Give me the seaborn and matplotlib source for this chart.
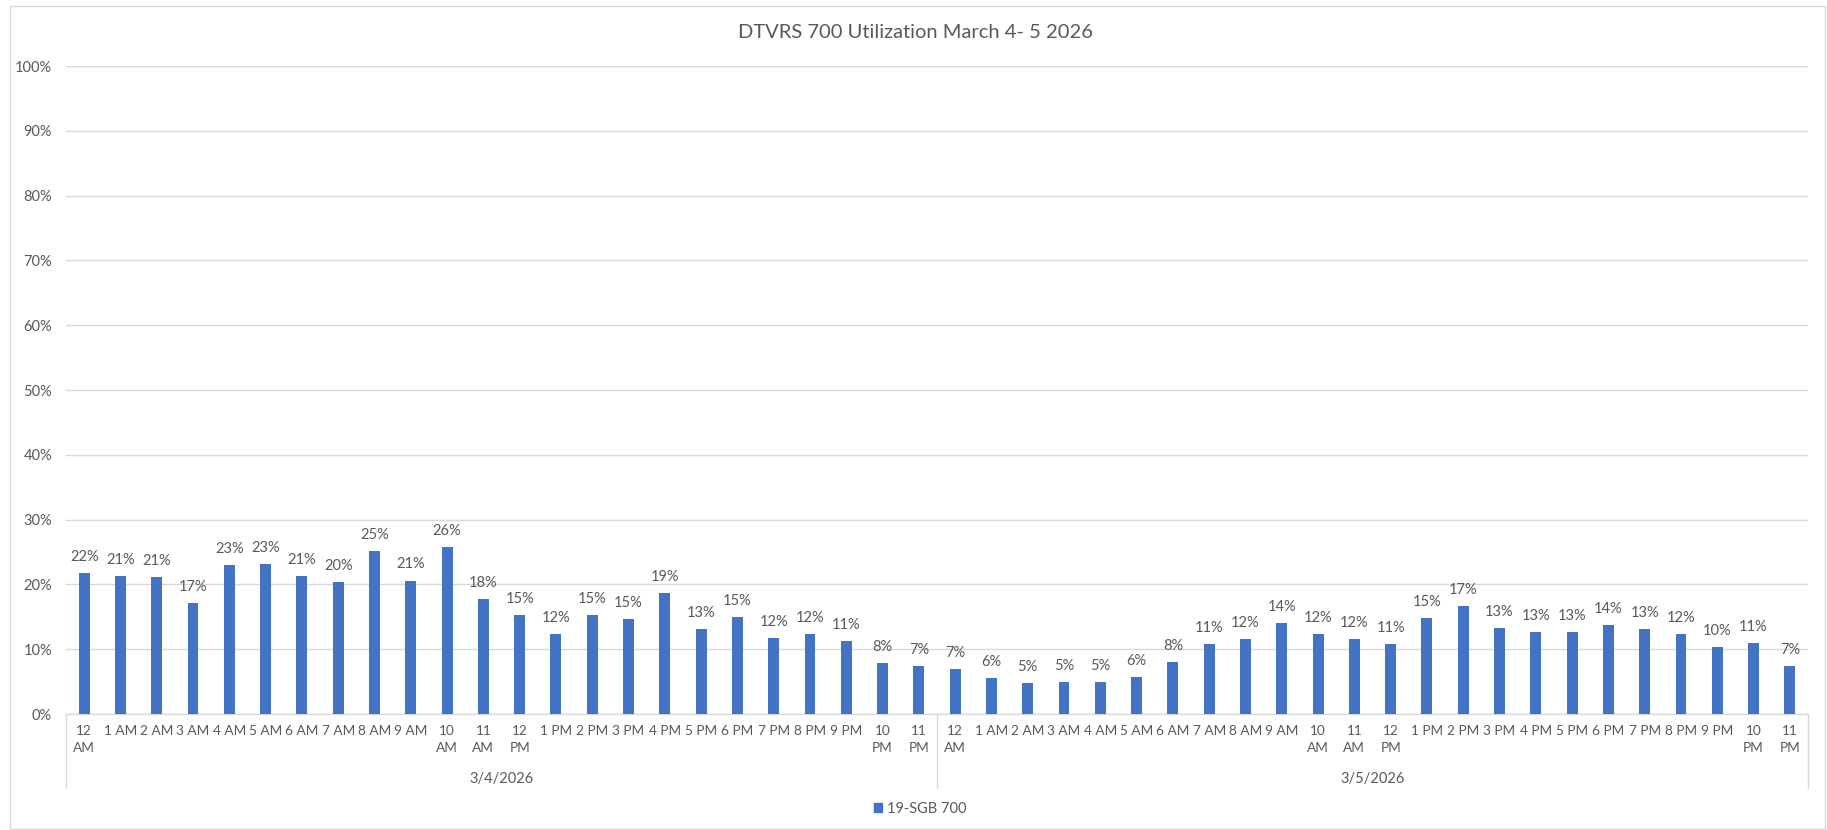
import matplotlib
matplotlib.use("Agg")
import matplotlib.pyplot as plt
import matplotlib.patches as mpatches
import matplotlib.transforms as mtransforms
import seaborn as sns
import pandas as pd
import numpy as np

# ---------------- data ----------------
title = "DTVRS 700 Utilization March 4- 5 2026"
series_name = "19-SGB 700"
dates = ["3/4/2026", "3/5/2026"]
hours = ["12 AM", "1 AM", "2 AM", "3 AM", "4 AM", "5 AM", "6 AM", "7 AM", "8 AM",
         "9 AM", "10 AM", "11 AM", "12 PM", "1 PM", "2 PM", "3 PM", "4 PM", "5 PM",
         "6 PM", "7 PM", "8 PM", "9 PM", "10 PM", "11 PM"]
day1_util = [21.7, 21.3, 21.1, 17.2, 23.0, 23.2, 21.3, 20.4, 25.1, 20.6, 25.8, 17.8,
             15.3, 12.3, 15.3, 14.6, 18.7, 13.1, 14.9, 11.8, 12.3, 11.2, 7.8, 7.4]
day2_util = [6.9, 5.6, 4.8, 5.0, 5.0, 5.7, 8.0, 10.8, 11.6, 14.0, 12.3, 11.6,
             10.8, 14.8, 16.6, 13.2, 12.7, 12.6, 13.8, 13.1, 12.4, 10.4, 11.0, 7.4]
y_ticks = list(range(0, 101, 10))

# ---------------- style ----------------
BAR = "#4472C4"
TXT = "#595959"
GRID = "#D9D9D9"
FS = 10.5
FSX = 9.8
sns.set_theme(style="white")
plt.rcParams["font.family"] = ["Lato", "DejaVu Sans"]

df = pd.DataFrame({
    "date": [dates[0]] * len(hours) + [dates[1]] * len(hours),
    "hour": hours + hours,
    "util": day1_util + day2_util,
})
df["slot"] = np.arange(len(df))

W, H, DPI = 1827, 830, 100
fig = plt.figure(figsize=(W / DPI, H / DPI), dpi=DPI)
L, R, T, B = 66, 1808, 66, 714
ax = fig.add_axes([L / W, 1 - B / H, (R - L) / W, (B - T) / H])

sns.barplot(data=df, x="slot", y="util", color=BAR, width=0.30, ax=ax,
            saturation=1, edgecolor="none", zorder=3)

ax.set_ylim(0, 100)
ax.set_xlim(-0.5, len(df) - 0.5)
ax.set_yticks(y_ticks)
ax.set_yticklabels([f"{t}%" for t in y_ticks])
ax.grid(axis="y", color=GRID, linewidth=1.0, zorder=0)
ax.set_axisbelow(True)
ax.set_xlabel("")
ax.set_ylabel("")

def wrap(h):
    num, ap = h.split(" ")
    return f"{num}\n{ap}" if len(num) > 1 else h

ax.set_xticks(df["slot"])
ax.set_xticklabels([wrap(h) for h in df["hour"]], linespacing=1.5)
ax.tick_params(axis="x", length=0, pad=8, labelsize=FSX, colors=TXT)
ax.tick_params(axis="y", length=0, pad=10, labelsize=FS, colors=TXT)

for s in ["top", "right", "left"]:
    ax.spines[s].set_visible(False)
ax.spines["bottom"].set_color(GRID)
ax.spines["bottom"].set_linewidth(1.0)

for c in ax.containers:
    ax.bar_label(c, fmt="{:.0f}%", padding=6.5, fontsize=FS, color=TXT)

# multi-level category axis: separators and date labels
trans = mtransforms.blended_transform_factory(ax.transData, ax.transAxes)
sep_bottom = -(788 - B) / (B - T)
n = len(hours)
for k in range(len(dates) + 1):
    xs = k * n - 0.5
    ax.plot([xs, xs], [0, sep_bottom], color=GRID, lw=1.0,
            transform=trans, clip_on=False)
for k, d in enumerate(dates):
    ax.text(k * n + (n - 1) / 2, -(779 - B) / (B - T), d, transform=trans,
            ha="center", va="center", fontsize=FS, color=TXT)

fig.text((737 + 1095) / 2 / W, 1 - 33 / H, title, ha="center", va="center",
         fontsize=14.5, color=TXT)

handle = mpatches.Patch(color=BAR, label=series_name)
leg = fig.legend(handles=[handle], loc="center", bbox_to_anchor=(920 / W, 1 - 809 / H),
                 frameon=False, fontsize=FS, handlelength=0.6, handleheight=0.6,
                 handletextpad=0.3)
for t in leg.get_texts():
    t.set_color(TXT)

# chart-area border
fig.patches.append(mpatches.Rectangle((10 / W, 1 - 829 / H), (1825 - 10) / W, (829 - 6) / H,
                                      transform=fig.transFigure, fill=False,
                                      edgecolor=GRID, linewidth=1.0))

fig.savefig("out.png", dpi=DPI)
